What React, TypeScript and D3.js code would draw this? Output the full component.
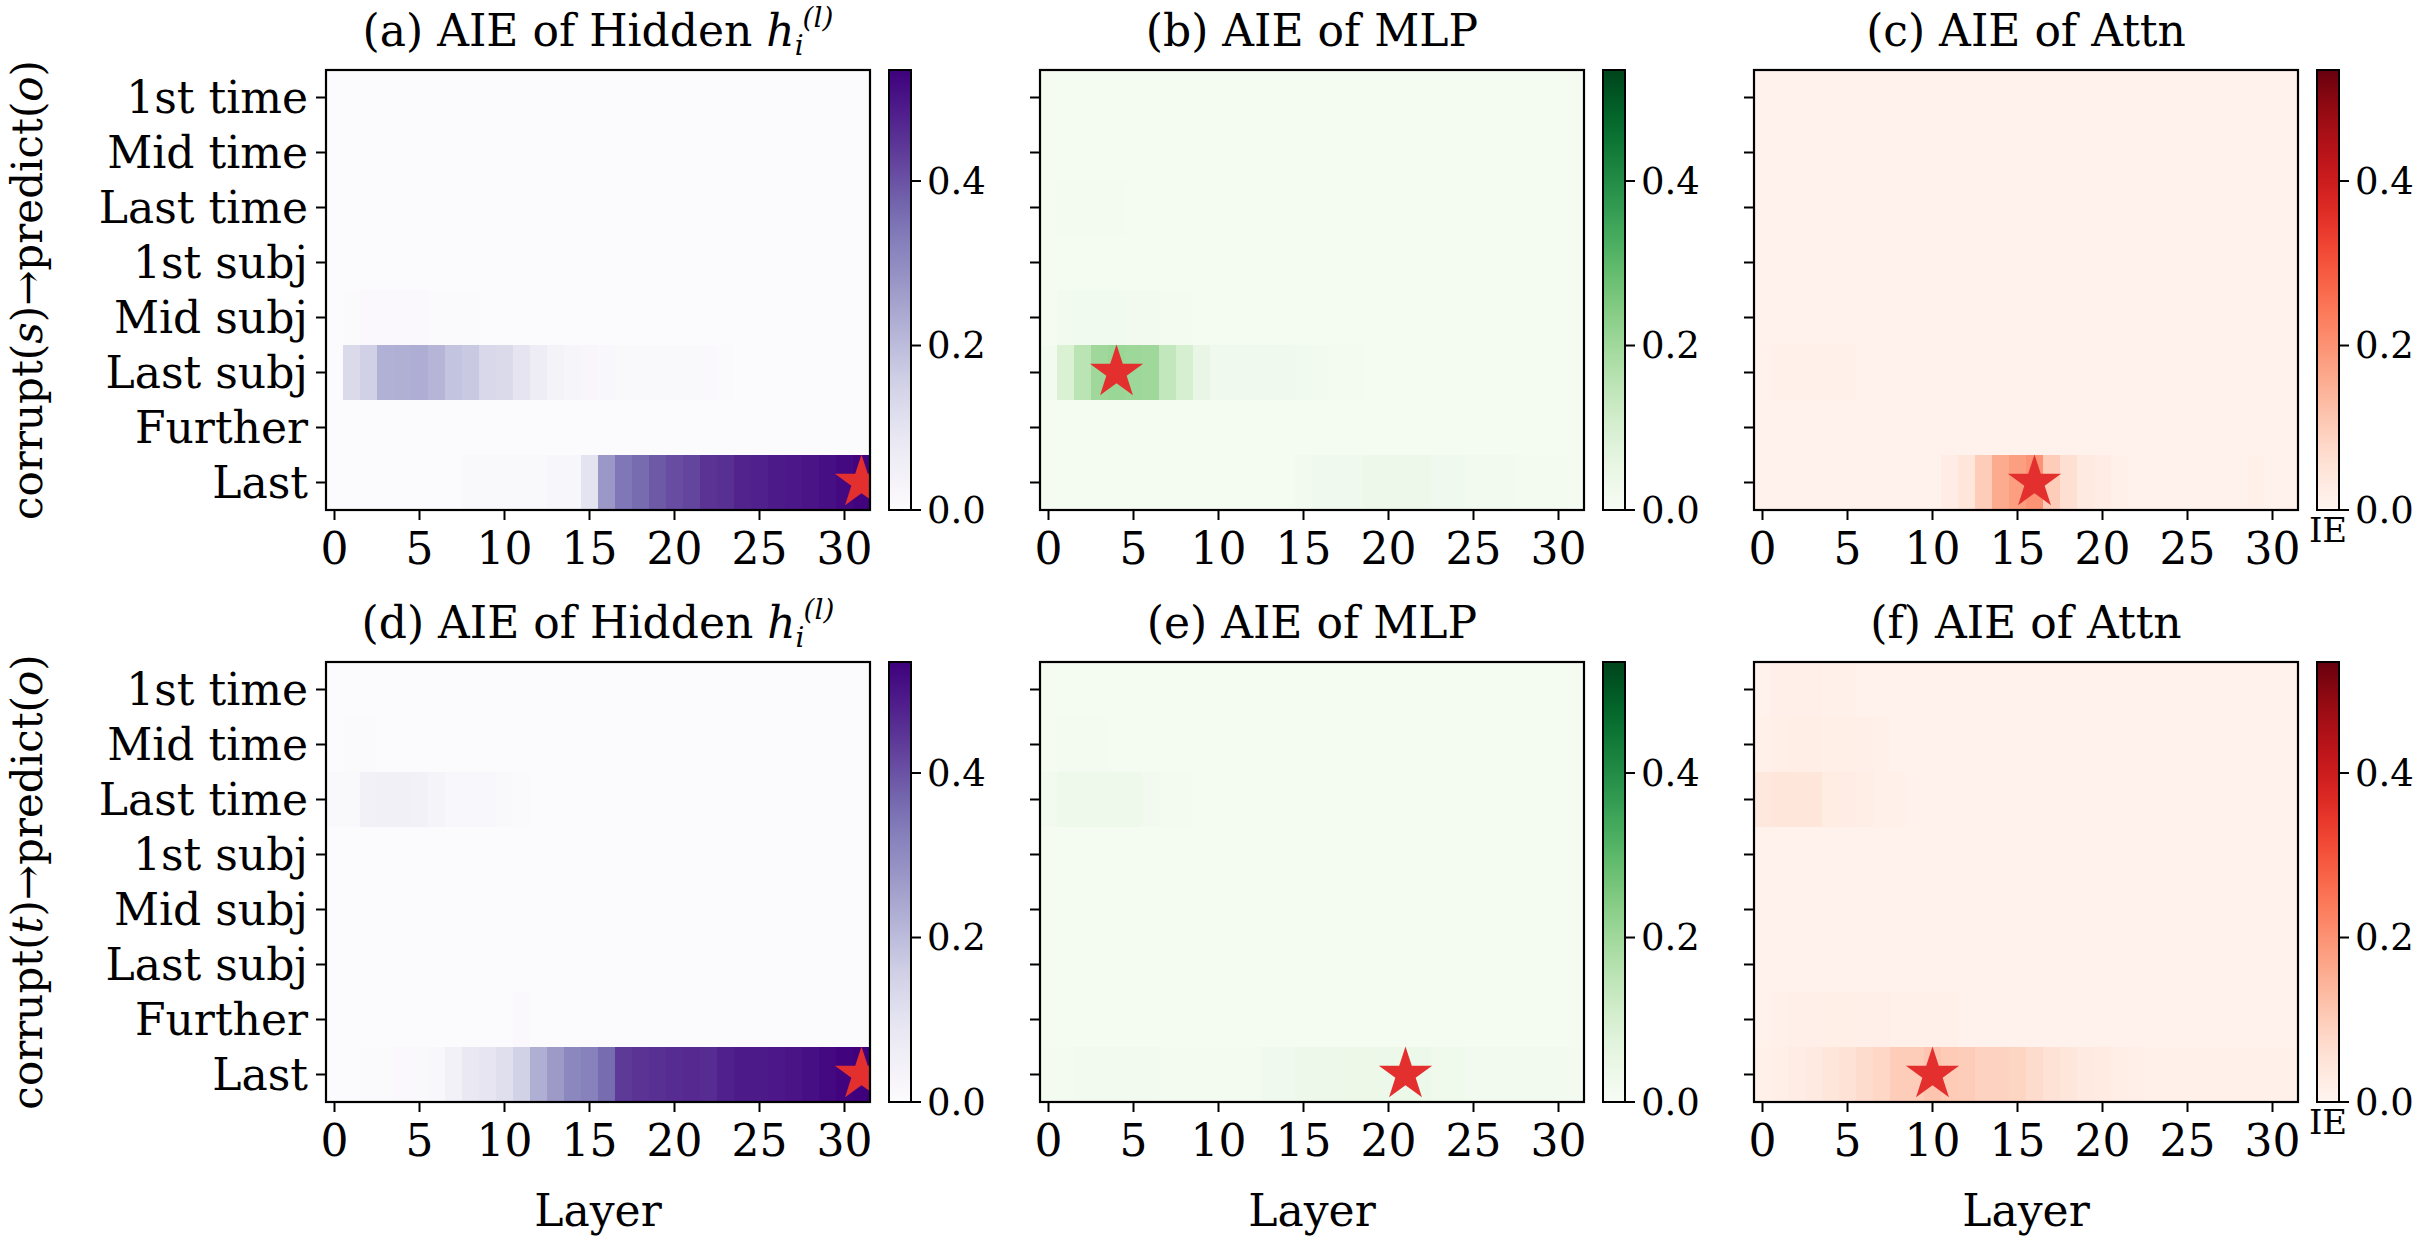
import * as d3 from 'd3'

// rows of every heatmap, top to bottom
const ROWS = ['1st time', 'Mid time', 'Last time', '1st subj', 'Mid subj', 'Last subj', 'Further', 'Last']
const LAYERS = d3.range(32)
const X_TICKS = [0, 5, 10, 15, 20, 25, 30]
const CB_TICKS = [0, 0.2, 0.4]

// (a) hidden, corrupt(s)
const hiddenS = [
  [0.004, 0.004, 0.004, 0.004, 0.004, 0.004, 0.004, 0.004, 0.004, 0.004, 0.004, 0.004, 0.004, 0.004, 0.004, 0.004, 0.004, 0.004, 0.004, 0.004, 0.004, 0.004, 0.004, 0.004, 0.004, 0.004, 0.004, 0.004, 0.004, 0.004, 0.004, 0.004],
  [0.004, 0.004, 0.004, 0.004, 0.004, 0.004, 0.004, 0.004, 0.004, 0.004, 0.004, 0.004, 0.004, 0.004, 0.004, 0.004, 0.004, 0.004, 0.004, 0.004, 0.004, 0.004, 0.004, 0.004, 0.004, 0.004, 0.004, 0.004, 0.004, 0.004, 0.004, 0.004],
  [0.004, 0.005, 0.005, 0.005, 0.004, 0.004, 0.004, 0.004, 0.004, 0.004, 0.004, 0.004, 0.004, 0.004, 0.004, 0.004, 0.004, 0.004, 0.004, 0.004, 0.004, 0.004, 0.004, 0.004, 0.004, 0.004, 0.004, 0.004, 0.004, 0.004, 0.004, 0.004],
  [0.005, 0.005, 0.005, 0.005, 0.005, 0.005, 0.005, 0.005, 0.005, 0.005, 0.005, 0.005, 0.005, 0.005, 0.005, 0.005, 0.005, 0.005, 0.005, 0.005, 0.005, 0.005, 0.005, 0.005, 0.005, 0.005, 0.005, 0.005, 0.005, 0.005, 0.005, 0.005],
  [0.004, 0.01, 0.012, 0.012, 0.012, 0.012, 0.01, 0.01, 0.008, 0.006, 0.005, 0.005, 0.004, 0.004, 0.004, 0.004, 0.004, 0.004, 0.004, 0.004, 0.004, 0.004, 0.004, 0.004, 0.004, 0.004, 0.004, 0.004, 0.004, 0.004, 0.004, 0.004],
  [0.004, 0.13, 0.155, 0.225, 0.228, 0.232, 0.215, 0.184, 0.172, 0.135, 0.13, 0.097, 0.065, 0.038, 0.03, 0.022, 0.018, 0.016, 0.015, 0.015, 0.014, 0.013, 0.012, 0.01, 0.005, 0.004, 0.004, 0.004, 0.004, 0.004, 0.004, 0.004],
  [0.004, 0.004, 0.004, 0.004, 0.004, 0.004, 0.004, 0.004, 0.005, 0.005, 0.006, 0.006, 0.006, 0.006, 0.006, 0.006, 0.005, 0.005, 0.005, 0.005, 0.004, 0.004, 0.004, 0.004, 0.004, 0.004, 0.004, 0.004, 0.004, 0.004, 0.004, 0.004],
  [0.004, 0.004, 0.004, 0.004, 0.004, 0.004, 0.004, 0.004, 0.015, 0.015, 0.015, 0.015, 0.015, 0.025, 0.025, 0.1, 0.275, 0.34, 0.36, 0.39, 0.41, 0.42, 0.45, 0.455, 0.475, 0.48, 0.49, 0.495, 0.5, 0.51, 0.52, 0.53],
]

// (b) MLP, corrupt(s)
const mlpS = [
  [0.012, 0.012, 0.012, 0.012, 0.012, 0.012, 0.012, 0.012, 0.012, 0.012, 0.012, 0.012, 0.012, 0.012, 0.012, 0.012, 0.012, 0.012, 0.012, 0.012, 0.012, 0.012, 0.012, 0.012, 0.012, 0.012, 0.012, 0.012, 0.012, 0.012, 0.012, 0.012],
  [0.012, 0.012, 0.012, 0.012, 0.012, 0.012, 0.012, 0.012, 0.012, 0.012, 0.012, 0.012, 0.012, 0.012, 0.012, 0.012, 0.012, 0.012, 0.012, 0.012, 0.012, 0.012, 0.012, 0.012, 0.012, 0.012, 0.012, 0.012, 0.012, 0.012, 0.012, 0.012],
  [0.012, 0.013, 0.013, 0.013, 0.013, 0.012, 0.012, 0.012, 0.012, 0.012, 0.012, 0.012, 0.012, 0.012, 0.012, 0.012, 0.012, 0.012, 0.012, 0.012, 0.012, 0.012, 0.012, 0.012, 0.012, 0.012, 0.012, 0.012, 0.012, 0.012, 0.012, 0.012],
  [0.012, 0.012, 0.012, 0.012, 0.012, 0.012, 0.012, 0.012, 0.012, 0.012, 0.012, 0.012, 0.012, 0.012, 0.012, 0.012, 0.012, 0.012, 0.012, 0.012, 0.012, 0.012, 0.012, 0.012, 0.012, 0.012, 0.012, 0.012, 0.012, 0.012, 0.012, 0.012],
  [0.012, 0.02, 0.022, 0.022, 0.022, 0.02, 0.018, 0.016, 0.014, 0.012, 0.012, 0.012, 0.012, 0.012, 0.012, 0.012, 0.012, 0.012, 0.012, 0.012, 0.012, 0.012, 0.012, 0.012, 0.012, 0.012, 0.012, 0.012, 0.012, 0.012, 0.012, 0.012],
  [0.02, 0.09, 0.155, 0.2, 0.21, 0.205, 0.2, 0.14, 0.1, 0.05, 0.025, 0.025, 0.025, 0.024, 0.024, 0.022, 0.02, 0.016, 0.014, 0.012, 0.012, 0.012, 0.012, 0.012, 0.012, 0.012, 0.012, 0.012, 0.012, 0.012, 0.012, 0.012],
  [0.012, 0.012, 0.012, 0.012, 0.012, 0.012, 0.012, 0.012, 0.012, 0.012, 0.012, 0.012, 0.012, 0.012, 0.012, 0.012, 0.012, 0.012, 0.012, 0.012, 0.012, 0.012, 0.012, 0.012, 0.012, 0.012, 0.012, 0.012, 0.012, 0.012, 0.012, 0.012],
  [0.012, 0.012, 0.012, 0.012, 0.012, 0.012, 0.012, 0.012, 0.012, 0.012, 0.012, 0.012, 0.012, 0.012, 0.012, 0.018, 0.025, 0.025, 0.025, 0.035, 0.035, 0.035, 0.035, 0.025, 0.025, 0.02, 0.02, 0.02, 0.016, 0.016, 0.016, 0.012],
]

// (c) attention, corrupt(s)
const attnS = [
  [0.012, 0.012, 0.012, 0.012, 0.012, 0.012, 0.012, 0.012, 0.012, 0.012, 0.012, 0.012, 0.012, 0.012, 0.012, 0.012, 0.012, 0.012, 0.012, 0.012, 0.012, 0.012, 0.012, 0.012, 0.012, 0.012, 0.012, 0.012, 0.012, 0.012, 0.012, 0.012],
  [0.012, 0.012, 0.012, 0.012, 0.012, 0.012, 0.012, 0.012, 0.012, 0.012, 0.012, 0.012, 0.012, 0.012, 0.012, 0.012, 0.012, 0.012, 0.012, 0.012, 0.012, 0.012, 0.012, 0.012, 0.012, 0.012, 0.012, 0.012, 0.012, 0.012, 0.012, 0.012],
  [0.012, 0.012, 0.012, 0.012, 0.012, 0.012, 0.012, 0.012, 0.012, 0.012, 0.012, 0.012, 0.012, 0.012, 0.012, 0.012, 0.012, 0.012, 0.012, 0.012, 0.012, 0.012, 0.012, 0.012, 0.012, 0.012, 0.012, 0.012, 0.012, 0.012, 0.012, 0.012],
  [0.012, 0.012, 0.012, 0.012, 0.012, 0.012, 0.012, 0.012, 0.012, 0.012, 0.012, 0.012, 0.012, 0.012, 0.012, 0.012, 0.012, 0.012, 0.012, 0.012, 0.012, 0.012, 0.012, 0.012, 0.012, 0.012, 0.012, 0.012, 0.012, 0.012, 0.012, 0.012],
  [0.012, 0.012, 0.012, 0.012, 0.012, 0.012, 0.012, 0.012, 0.012, 0.012, 0.012, 0.012, 0.012, 0.012, 0.012, 0.012, 0.012, 0.012, 0.012, 0.012, 0.012, 0.012, 0.012, 0.012, 0.012, 0.012, 0.012, 0.012, 0.012, 0.012, 0.012, 0.012],
  [0.012, 0.014, 0.014, 0.014, 0.013, 0.013, 0.012, 0.012, 0.012, 0.012, 0.012, 0.012, 0.012, 0.012, 0.012, 0.012, 0.012, 0.012, 0.012, 0.012, 0.012, 0.012, 0.012, 0.012, 0.012, 0.012, 0.012, 0.012, 0.012, 0.012, 0.012, 0.012],
  [0.012, 0.012, 0.012, 0.012, 0.012, 0.012, 0.012, 0.012, 0.012, 0.012, 0.012, 0.012, 0.012, 0.012, 0.012, 0.012, 0.012, 0.012, 0.012, 0.012, 0.012, 0.012, 0.012, 0.012, 0.012, 0.012, 0.012, 0.012, 0.012, 0.012, 0.012, 0.012],
  [0.012, 0.012, 0.012, 0.012, 0.012, 0.012, 0.012, 0.012, 0.012, 0.012, 0.012, 0.025, 0.045, 0.1, 0.16, 0.18, 0.2, 0.1, 0.06, 0.035, 0.025, 0.015, 0.012, 0.012, 0.012, 0.012, 0.012, 0.012, 0.012, 0.015, 0.012, 0.012],
]

// (d) hidden, corrupt(t)
const hiddenT = [
  [0.004, 0.004, 0.004, 0.004, 0.004, 0.004, 0.004, 0.004, 0.004, 0.004, 0.004, 0.004, 0.004, 0.004, 0.004, 0.004, 0.004, 0.004, 0.004, 0.004, 0.004, 0.004, 0.004, 0.004, 0.004, 0.004, 0.004, 0.004, 0.004, 0.004, 0.004, 0.004],
  [0.004, 0.008, 0.008, 0.006, 0.006, 0.005, 0.004, 0.004, 0.004, 0.004, 0.004, 0.004, 0.004, 0.004, 0.004, 0.004, 0.004, 0.004, 0.004, 0.004, 0.004, 0.004, 0.004, 0.004, 0.004, 0.004, 0.004, 0.004, 0.004, 0.004, 0.004, 0.004],
  [0.015, 0.015, 0.045, 0.05, 0.05, 0.045, 0.035, 0.02, 0.02, 0.018, 0.015, 0.008, 0.006, 0.005, 0.004, 0.004, 0.004, 0.004, 0.004, 0.004, 0.004, 0.004, 0.004, 0.004, 0.004, 0.004, 0.004, 0.004, 0.004, 0.004, 0.004, 0.004],
  [0.004, 0.004, 0.004, 0.004, 0.004, 0.004, 0.004, 0.004, 0.004, 0.004, 0.004, 0.004, 0.004, 0.004, 0.004, 0.004, 0.004, 0.004, 0.004, 0.004, 0.004, 0.004, 0.004, 0.004, 0.004, 0.004, 0.004, 0.004, 0.004, 0.004, 0.004, 0.004],
  [0.004, 0.004, 0.004, 0.004, 0.004, 0.004, 0.004, 0.004, 0.004, 0.004, 0.004, 0.004, 0.004, 0.004, 0.004, 0.004, 0.004, 0.004, 0.004, 0.004, 0.004, 0.004, 0.004, 0.004, 0.004, 0.004, 0.004, 0.004, 0.004, 0.004, 0.004, 0.004],
  [0.004, 0.004, 0.004, 0.004, 0.004, 0.004, 0.004, 0.004, 0.004, 0.004, 0.004, 0.004, 0.004, 0.004, 0.004, 0.004, 0.004, 0.004, 0.004, 0.004, 0.004, 0.004, 0.004, 0.004, 0.004, 0.004, 0.004, 0.004, 0.004, 0.004, 0.004, 0.004],
  [0.004, 0.004, 0.004, 0.004, 0.004, 0.004, 0.004, 0.004, 0.004, 0.004, 0.004, 0.012, 0.004, 0.004, 0.004, 0.004, 0.004, 0.004, 0.004, 0.004, 0.004, 0.004, 0.004, 0.004, 0.004, 0.004, 0.004, 0.004, 0.004, 0.004, 0.004, 0.004],
  [0.004, 0.006, 0.008, 0.01, 0.012, 0.015, 0.02, 0.045, 0.08, 0.095, 0.115, 0.15, 0.23, 0.27, 0.31, 0.32, 0.36, 0.44, 0.45, 0.455, 0.46, 0.465, 0.46, 0.48, 0.49, 0.49, 0.495, 0.5, 0.51, 0.52, 0.53, 0.535],
]

// (e) MLP, corrupt(t)
const mlpT = [
  [0.012, 0.012, 0.012, 0.012, 0.012, 0.012, 0.012, 0.012, 0.012, 0.012, 0.012, 0.012, 0.012, 0.012, 0.012, 0.012, 0.012, 0.012, 0.012, 0.012, 0.012, 0.012, 0.012, 0.012, 0.012, 0.012, 0.012, 0.012, 0.012, 0.012, 0.012, 0.012],
  [0.012, 0.013, 0.013, 0.013, 0.012, 0.012, 0.012, 0.012, 0.012, 0.012, 0.012, 0.012, 0.012, 0.012, 0.012, 0.012, 0.012, 0.012, 0.012, 0.012, 0.012, 0.012, 0.012, 0.012, 0.012, 0.012, 0.012, 0.012, 0.012, 0.012, 0.012, 0.012],
  [0.02, 0.03, 0.03, 0.032, 0.03, 0.03, 0.02, 0.015, 0.013, 0.012, 0.012, 0.012, 0.012, 0.012, 0.012, 0.012, 0.012, 0.012, 0.012, 0.012, 0.012, 0.012, 0.012, 0.012, 0.012, 0.012, 0.012, 0.012, 0.012, 0.012, 0.012, 0.012],
  [0.012, 0.012, 0.012, 0.012, 0.012, 0.012, 0.012, 0.012, 0.012, 0.012, 0.012, 0.012, 0.012, 0.012, 0.012, 0.012, 0.012, 0.012, 0.012, 0.012, 0.012, 0.012, 0.012, 0.012, 0.012, 0.012, 0.012, 0.012, 0.012, 0.012, 0.012, 0.012],
  [0.012, 0.012, 0.012, 0.012, 0.012, 0.012, 0.012, 0.012, 0.012, 0.012, 0.012, 0.012, 0.012, 0.012, 0.012, 0.012, 0.012, 0.012, 0.012, 0.012, 0.012, 0.012, 0.012, 0.012, 0.012, 0.012, 0.012, 0.012, 0.012, 0.012, 0.012, 0.012],
  [0.012, 0.012, 0.012, 0.012, 0.012, 0.012, 0.012, 0.012, 0.012, 0.012, 0.012, 0.012, 0.012, 0.012, 0.012, 0.012, 0.012, 0.012, 0.012, 0.012, 0.012, 0.012, 0.012, 0.012, 0.012, 0.012, 0.012, 0.012, 0.012, 0.012, 0.012, 0.012],
  [0.012, 0.012, 0.012, 0.012, 0.012, 0.012, 0.012, 0.012, 0.012, 0.012, 0.012, 0.012, 0.012, 0.012, 0.012, 0.012, 0.012, 0.012, 0.012, 0.012, 0.012, 0.012, 0.012, 0.012, 0.012, 0.012, 0.012, 0.012, 0.012, 0.012, 0.012, 0.012],
  [0.015, 0.015, 0.018, 0.018, 0.018, 0.018, 0.018, 0.015, 0.015, 0.015, 0.015, 0.015, 0.015, 0.025, 0.025, 0.033, 0.035, 0.035, 0.036, 0.036, 0.038, 0.04, 0.038, 0.028, 0.028, 0.018, 0.018, 0.018, 0.018, 0.018, 0.02, 0.015],
]

// (f) attention, corrupt(t)
const attnT = [
  [0.012, 0.018, 0.018, 0.018, 0.016, 0.014, 0.012, 0.012, 0.012, 0.012, 0.012, 0.012, 0.012, 0.012, 0.012, 0.012, 0.012, 0.012, 0.012, 0.012, 0.012, 0.012, 0.012, 0.012, 0.012, 0.012, 0.012, 0.012, 0.012, 0.012, 0.012, 0.012],
  [0.015, 0.02, 0.022, 0.022, 0.02, 0.02, 0.018, 0.014, 0.012, 0.012, 0.012, 0.012, 0.012, 0.012, 0.012, 0.012, 0.012, 0.012, 0.012, 0.012, 0.012, 0.012, 0.012, 0.012, 0.012, 0.012, 0.012, 0.012, 0.012, 0.012, 0.012, 0.012],
  [0.04, 0.045, 0.045, 0.045, 0.028, 0.025, 0.022, 0.016, 0.014, 0.012, 0.012, 0.012, 0.012, 0.012, 0.012, 0.012, 0.012, 0.012, 0.012, 0.012, 0.012, 0.012, 0.012, 0.012, 0.012, 0.012, 0.012, 0.012, 0.012, 0.012, 0.012, 0.012],
  [0.012, 0.012, 0.012, 0.012, 0.012, 0.012, 0.012, 0.012, 0.012, 0.012, 0.012, 0.012, 0.012, 0.012, 0.012, 0.012, 0.012, 0.012, 0.012, 0.012, 0.012, 0.012, 0.012, 0.012, 0.012, 0.012, 0.012, 0.012, 0.012, 0.012, 0.012, 0.012],
  [0.012, 0.012, 0.012, 0.012, 0.012, 0.012, 0.012, 0.012, 0.012, 0.012, 0.012, 0.012, 0.012, 0.012, 0.012, 0.012, 0.012, 0.012, 0.012, 0.012, 0.012, 0.012, 0.012, 0.012, 0.012, 0.012, 0.012, 0.012, 0.012, 0.012, 0.012, 0.012],
  [0.012, 0.012, 0.012, 0.012, 0.012, 0.012, 0.012, 0.012, 0.012, 0.012, 0.012, 0.012, 0.012, 0.012, 0.012, 0.012, 0.012, 0.012, 0.012, 0.012, 0.012, 0.012, 0.012, 0.012, 0.012, 0.012, 0.012, 0.012, 0.012, 0.012, 0.012, 0.012],
  [0.012, 0.014, 0.018, 0.018, 0.02, 0.02, 0.018, 0.018, 0.016, 0.015, 0.014, 0.013, 0.012, 0.012, 0.012, 0.012, 0.012, 0.012, 0.012, 0.012, 0.012, 0.012, 0.012, 0.012, 0.012, 0.012, 0.012, 0.012, 0.012, 0.012, 0.012, 0.012],
  [0.016, 0.02, 0.025, 0.035, 0.045, 0.055, 0.07, 0.08, 0.1, 0.1, 0.115, 0.105, 0.1, 0.09, 0.09, 0.085, 0.07, 0.055, 0.045, 0.035, 0.03, 0.022, 0.018, 0.016, 0.015, 0.015, 0.015, 0.014, 0.014, 0.014, 0.014, 0.014],
]

const PANELS = [
  { letter: 'a', name: 'Hidden', math: true, data: hiddenS, interp: d3.interpolatePurples, corrupt: 's' },
  { letter: 'b', name: 'MLP', math: false, data: mlpS, interp: d3.interpolateGreens, corrupt: 's' },
  { letter: 'c', name: 'Attn', math: false, data: attnS, interp: d3.interpolateReds, corrupt: 's' },
  { letter: 'd', name: 'Hidden', math: true, data: hiddenT, interp: d3.interpolatePurples, corrupt: 't' },
  { letter: 'e', name: 'MLP', math: false, data: mlpT, interp: d3.interpolateGreens, corrupt: 't' },
  { letter: 'f', name: 'Attn', math: false, data: attnT, interp: d3.interpolateReds, corrupt: 't' },
]

const W = 2425, H = 1236
const PW = 544, PH = 440
const COL_X = [326, 1040, 1754]
const ROW_Y = [70, 662]
const CB_GAP = 19, CB_W = 22
const FONT = 'DejaVu Serif'
const STAR = '#e3302f'

function Panel({ p, i, vmax }: { p: typeof PANELS[number], i: number, vmax: number }) {
  const col = i % 3, row = Math.floor(i / 3)
  const left = COL_X[col], top = ROW_Y[row]
  const x = d3.scaleLinear().domain([-0.5, 31.5]).range([0, PW])
  const y = d3.scaleBand().domain(ROWS).range([0, PH])
  const color = d3.scaleSequential(p.interp).domain([0, vmax])
  const cb = d3.scaleLinear().domain([0, vmax]).range([PH, 0])
  const cw = x(1) - x(0)

  // star at the strongest cell
  let best = { r: 0, l: 0, v: -1 }
  p.data.forEach((r, ri) => r.forEach((v, li) => { if (v > best.v) best = { r: ri, l: li, v } }))
  const star = d3.symbol(d3.symbolStar, 880)() ?? ''

  const clipId = `clip-${p.letter}`
  const gradId = `grad-${p.letter}`
  const cbX = PW + CB_GAP

  return (
    <g transform={`translate(${left},${top})`}>
      <defs>
        <clipPath id={clipId}><rect width={PW} height={PH} /></clipPath>
        <linearGradient id={gradId} x1="0" y1="1" x2="0" y2="0">
          {d3.range(0, 1.0001, 0.05).map(t => (
            <stop key={t} offset={t} stopColor={color(t * vmax)} />
          ))}
        </linearGradient>
      </defs>

      <text x={PW / 2} y={-24} textAnchor="middle" fontSize={44} style={{ whiteSpace: 'pre' }}>
        {`(${p.letter}) AIE of ${p.name}${p.math ? ' ' : ''}`}
        {p.math && <tspan fontStyle="italic">h</tspan>}
        {p.math && <tspan fontStyle="italic" fontSize={28} dy={9}>i</tspan>}
        {p.math && <tspan fontStyle="italic" fontSize={28} dx={-1} dy={-28}>(l)</tspan>}
      </text>

      <g clipPath={`url(#${clipId})`}>
        {p.data.map((r, ri) => r.map((v, li) => (
          <rect key={`${ri}-${li}`} x={x(LAYERS[li] - 0.5)} y={y(ROWS[ri])}
            width={cw + 0.6} height={y.bandwidth() + 0.6} fill={color(v)} />
        )))}
        <path d={star} fill={STAR}
          transform={`translate(${x(best.l)},${(y(ROWS[best.r]) ?? 0) + y.bandwidth() / 2})`} />
      </g>
      <rect width={PW} height={PH} fill="none" stroke="#000" strokeWidth={2.2} />

      {X_TICKS.map(t => (
        <g key={t} transform={`translate(${x(t)},${PH})`}>
          <line y2={10} stroke="#000" strokeWidth={2} />
          <text y={54} textAnchor="middle" fontSize={44}>{t}</text>
        </g>
      ))}
      {ROWS.map(r => (
        <g key={r} transform={`translate(0,${(y(r) ?? 0) + y.bandwidth() / 2})`}>
          <line x2={-10} stroke="#000" strokeWidth={2} />
          {col === 0 && <text x={-18} dy="0.35em" textAnchor="end" fontSize={44}>{r}</text>}
        </g>
      ))}

      {col === 0 && (
        <text transform={`translate(${42 - left},${PH / 2}) rotate(-90)`} textAnchor="middle" fontSize={42}>
          corrupt(<tspan fontStyle="italic">{p.corrupt}</tspan>)→predict(<tspan fontStyle="italic">o</tspan>)
        </text>
      )}
      {row === 1 && (
        <text x={PW / 2} y={PH + 124} textAnchor="middle" fontSize={44}>Layer</text>
      )}

      <rect x={cbX} width={CB_W} height={PH} fill={`url(#${gradId})`} stroke="#000" strokeWidth={2} />
      {CB_TICKS.map(t => (
        <g key={t} transform={`translate(${cbX + CB_W},${cb(t)})`}>
          <line x2={10} stroke="#000" strokeWidth={2} />
          <text x={16} dy="0.35em" fontSize={37}>{d3.format('.1f')(t)}</text>
        </g>
      ))}
      {col === 2 && (
        <text x={cbX + CB_W / 2} y={PH + 32} textAnchor="middle" fontSize={34}>IE</text>
      )}
    </g>
  )
}

export default function App() {
  const vmax = d3.max(PANELS.flatMap(p => p.data.flat())) ?? 1
  return (
    <svg width={W} height={H} fontFamily={FONT}
      style={{ position: 'absolute', left: 0, top: 0, background: '#fff' }}>
      {PANELS.map((p, i) => <Panel key={p.letter} p={p} i={i} vmax={vmax} />)}
    </svg>
  )
}
